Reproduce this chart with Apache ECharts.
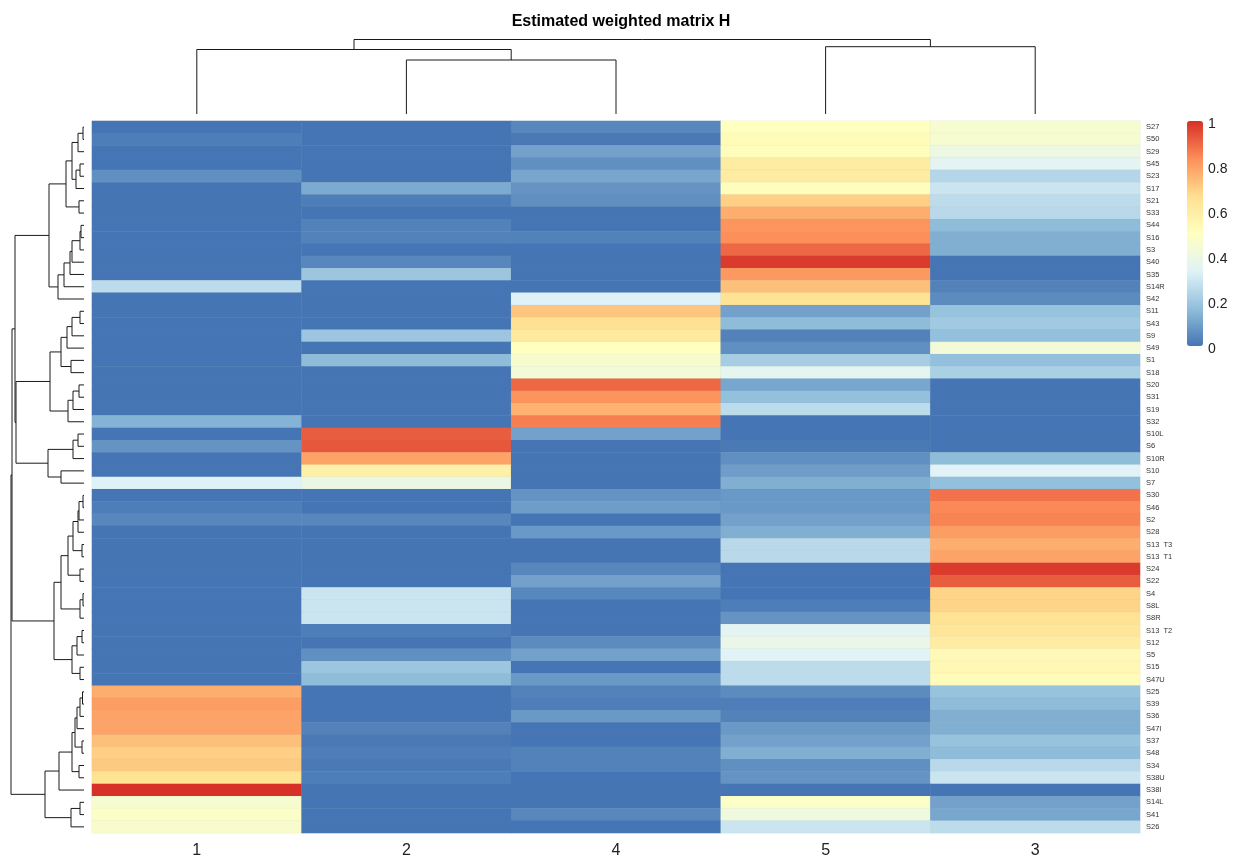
<!DOCTYPE html>
<html>
<head>
<meta charset="utf-8">
<script src="https://cdn.jsdelivr.net/npm/echarts@6/dist/echarts.min.js"></script>
<style>
html,body{margin:0;padding:0;background:#fff;}
#chart{width:1234px;height:863px;}
</style>
</head>
<body>
<div id="chart"></div>
<script>
// ---------- data ----------
const columns = ['1', '2', '4', '5', '3'];
const rowLabels = ['S27','S50','S29','S45','S23','S17','S21','S33','S44','S16','S3','S40','S35','S14R','S42',
  'S11','S43','S9','S49','S1','S18','S20','S31','S19','S32','S10L','S6','S10R','S10','S7',
  'S30','S46','S2','S28','S13  T3','S13  T1','S24','S22','S4','S8L','S8R','S13  T2','S12','S5','S15','S47U',
  'S25','S39','S36','S47I','S37','S48','S34','S38U','S38I','S14L','S41','S26'];
// values per row, in column order 1,2,4,5,3
const hValues = [
  [0.00,0.00,0.04,0.50,0.45],[0.02,0.00,0.01,0.52,0.45],[0.00,0.00,0.10,0.51,0.40],[0.00,0.00,0.06,0.60,0.35],
  [0.06,0.00,0.11,0.60,0.24],[0.00,0.12,0.07,0.51,0.29],[0.00,0.02,0.06,0.70,0.26],[0.00,0.00,0.00,0.77,0.25],
  [0.00,0.03,0.00,0.82,0.16],[0.00,0.03,0.03,0.83,0.13],[0.00,0.00,0.00,0.90,0.13],[0.00,0.04,0.00,0.98,0.00],
  [0.00,0.19,0.00,0.81,0.00],[0.26,0.00,0.00,0.73,0.03],[0.00,0.00,0.33,0.65,0.05],
  [0.00,0.00,0.72,0.10,0.18],[0.00,0.00,0.66,0.16,0.20],[0.00,0.19,0.62,0.03,0.17],[0.00,0.00,0.50,0.06,0.43],
  [0.00,0.16,0.46,0.21,0.17],[0.00,0.00,0.43,0.36,0.22],[0.00,0.00,0.90,0.11,0.00],[0.00,0.00,0.82,0.17,0.00],
  [0.00,0.00,0.76,0.26,0.00],[0.14,0.00,0.86,0.00,0.00],[0.00,0.92,0.10,0.00,0.00],[0.07,0.93,0.00,0.01,0.00],
  [0.00,0.79,0.00,0.06,0.16],[0.00,0.58,0.00,0.09,0.34],[0.33,0.39,0.00,0.13,0.17],
  [0.00,0.00,0.07,0.08,0.88],[0.02,0.00,0.09,0.08,0.84],[0.04,0.04,0.00,0.10,0.85],[0.00,0.00,0.08,0.13,0.80],
  [0.00,0.00,0.00,0.25,0.77],[0.00,0.00,0.00,0.25,0.79],[0.00,0.00,0.04,0.00,0.98],[0.00,0.00,0.10,0.00,0.92],
  [0.00,0.29,0.04,0.00,0.69],[0.00,0.29,0.00,0.02,0.69],[0.00,0.29,0.00,0.07,0.65],[0.00,0.02,0.00,0.35,0.64],
  [0.00,0.00,0.05,0.38,0.60],[0.00,0.06,0.10,0.34,0.53],[0.00,0.19,0.00,0.26,0.54],[0.00,0.16,0.08,0.26,0.52],
  [0.77,0.00,0.03,0.05,0.18],[0.80,0.00,0.02,0.02,0.16],[0.79,0.00,0.08,0.03,0.13],[0.79,0.03,0.00,0.08,0.13],
  [0.73,0.01,0.00,0.10,0.18],[0.70,0.02,0.03,0.13,0.16],[0.71,0.01,0.03,0.06,0.25],[0.65,0.02,0.00,0.07,0.29],
  [1.00,0.00,0.00,0.00,0.00],[0.45,0.00,0.00,0.48,0.10],[0.48,0.00,0.04,0.41,0.11],[0.46,0.00,0.00,0.29,0.26]
];
// hclust-style merges: negative = leaf (1-based display position), positive = earlier merge (1-based); [a, b, height]
const rowMerge = [
  [-1,-2,1],[1,-3,6],[-4,-5,4],[3,-6,8],[2,4,12],[-7,-8,5],[5,6,18],[-9,-10,3],[8,-11,4],[9,-12,12],
  [10,-13,14],[11,-14,20],[12,-15,26],[7,13,35],[-16,-17,4],[15,-18,12],[16,-19,17],[-20,-21,13],[17,18,23],
  [-22,-23,5],[20,-24,11],[21,-25,16],[19,22,34],[-26,-27,6],[24,-28,11],[-29,-30,23],[25,26,36],[23,27,68],
  [14,28,69],
  [-31,-32,1],[30,-33,5],[31,-34,6],[-35,-36,2],[32,33,11],[-37,-38,4],[34,35,16],[-39,-40,1],[37,-41,4],
  [36,38,23],[-42,-43,2],[40,-44,7],[-45,-46,4],[41,42,12],[39,43,30],[29,44,72],
  [-47,-48,1.5],[46,-49,4],[47,-50,7],[-51,-52,2],[48,49,9],[-53,-54,5],[50,51,12],[52,-55,25],
  [-56,-57,4],[54,-58,13],[53,55,39],[45,56,73]
];
const colMerge = [[-2,-3,54],[-1,1,64.5],[-4,-5,67.3],[2,3,74.5]];
const legendTicks = [0, 0.2, 0.4, 0.6, 0.8, 1];
const paletteColors = ['#4575B4','#91BFDB','#E0F3F8','#FFFFBF','#FEE090','#FC8D59','#D73027'];

// ---------- build ----------
function dendroSegments(merge) {
  const nodes = [];
  const get = (r) => r < 0 ? { pos: -r - 1 + 0.5, h: 0 } : nodes[r - 1];
  const segs = [];
  merge.forEach(([a, b, h]) => {
    const A = get(a), B = get(b);
    segs.push([[A.pos, A.h], [A.pos, h], [B.pos, h], [B.pos, B.h]]);
    nodes.push({ pos: (A.pos + B.pos) / 2, h: h });
  });
  return segs;
}
const rowSegs = dendroSegments(rowMerge).map(s => ({ coords: s.map(p => [p[1], p[0]]) }));
const colSegs = dendroSegments(colMerge).map(s => ({ coords: s.map(p => [p[0], p[1]]) }));

const heatData = [];
hValues.forEach((row, r) => row.forEach((v, c) => heatData.push([c, r, v])));

const FONT = 'Liberation Sans, Arial, sans-serif';
const chart = echarts.init(document.getElementById('chart'), null, { renderer: 'canvas' });
const HM = { left: 92, top: 121, width: 1048, height: 712 };
chart.setOption({
  animation: false,
  backgroundColor: '#ffffff',
  title: {
    text: 'Estimated weighted matrix H', left: 616, top: 9, textAlign: 'center',
    textStyle: { fontFamily: FONT, fontSize: 16, fontWeight: 'bold', color: '#000' }
  },
  grid: [
    { left: HM.left, top: HM.top, width: HM.width, height: HM.height },
    { left: HM.left, top: 39.5, width: HM.width, height: 74.5 },
    { left: 11, top: HM.top, width: 73, height: HM.height },
    { left: 1187, top: 124, width: 16, height: 225 }
  ],
  xAxis: [
    { type: 'category', gridIndex: 0, data: columns, position: 'bottom',
      axisLine: { show: false }, axisTick: { show: false }, splitLine: { show: false },
      axisLabel: { fontFamily: FONT, fontSize: 16, color: '#222', margin: 10 } },
    { type: 'value', gridIndex: 1, min: 0, max: 5, show: false },
    { type: 'value', gridIndex: 2, min: 0, max: 73, inverse: true, show: false },
    { type: 'value', gridIndex: 3, min: 0, max: 1, show: false }
  ],
  yAxis: [
    { type: 'category', gridIndex: 0, data: rowLabels, inverse: true, position: 'right',
      axisLine: { show: false }, axisTick: { show: false }, splitLine: { show: false },
      axisLabel: { fontFamily: FONT, fontSize: 7.5, color: '#333', margin: 6, interval: 0,
        padding: [5, 0, 0, 0] } },
    { type: 'value', gridIndex: 1, min: 0, max: 74.5, show: false },
    { type: 'value', gridIndex: 2, min: 0, max: 58, inverse: true, show: false },
    { type: 'value', gridIndex: 3, min: 0, max: 1, interval: 0.2, position: 'right',
      axisLine: { show: false }, axisTick: { show: false }, splitLine: { show: false },
      axisLabel: { fontFamily: FONT, fontSize: 14, color: '#222', margin: 5,
        customValues: legendTicks, formatter: v => String(+v.toFixed(1)) } }
  ],
  visualMap: {
    type: 'continuous', min: 0, max: 1, seriesIndex: 0, calculable: false,
    left: 1187, top: 121, itemWidth: 16, itemHeight: 225, padding: 0,
    inRange: { color: paletteColors }, text: null, showLabel: false
  },
  series: [
    { type: 'heatmap', xAxisIndex: 0, yAxisIndex: 0, data: heatData, silent: true,
      itemStyle: { borderWidth: 0.5, borderColor: 'rgba(153,153,153,0.12)' }, emphasis: { disabled: true } },
    { type: 'lines', coordinateSystem: 'cartesian2d', xAxisIndex: 1, yAxisIndex: 1, polyline: true,
      data: colSegs, silent: true, lineStyle: { color: '#1a1a1a', width: 1, opacity: 1 } },
    { type: 'lines', coordinateSystem: 'cartesian2d', xAxisIndex: 2, yAxisIndex: 2, polyline: true,
      data: rowSegs, silent: true, lineStyle: { color: '#1a1a1a', width: 1, opacity: 1 } }
  ]
});
</script>
</body>
</html>
